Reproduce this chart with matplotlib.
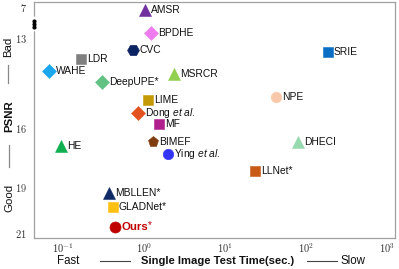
import numpy as np
import matplotlib
matplotlib.use('Agg')
import matplotlib.pyplot as plt
from matplotlib.lines import Line2D
from matplotlib.ticker import NullLocator
import matplotlib.transforms as mtransforms

plt.rcParams['font.family'] = 'Liberation Sans'
plt.rcParams['mathtext.fontset'] = 'cm'
plt.rcParams['mathtext.rm'] = 'Liberation Sans'
plt.rcParams['mathtext.it'] = 'Liberation Sans:italic'

# ---------------- data ----------------
methods = ['AMSR', 'BPDHE', 'CVC', 'LDR', 'WAHE', 'MSRCR', 'DeepUPE*', 'LIME',
           'Dong et al.', 'MF', 'SRIE', 'NPE', 'HE', 'BIMEF', 'Ying et al.',
           'MBLLEN*', 'GLADNet*', 'Ours*', 'DHECI', 'LLNet*']
times = [1.03, 1.22, 0.73, 0.166, 0.067, 2.35, 0.30, 1.12,
         0.84, 1.53, 187.0, 42.6, 0.095, 1.29, 1.98,
         0.37, 0.41, 0.44, 79.7, 23.4]
psnr = [7.58, 12.03, 13.40, 13.70, 14.10, 14.20, 14.47, 15.07,
        15.50, 15.87, 13.47, 14.97, 16.92, 16.71, 17.32,
        19.26, 19.87, 20.74, 16.71, 18.19]
markers = ['^', 'D', 'H', 's', 'D', '^', 'D', 's',
           'D', 's', 's', 'o', '^', 'p', 'o',
           '^', 's', 'o', '^', 's']
colors = ['#7030a0', '#ee7cee', '#0b2263', '#7f7f7f', '#1aa7ee', '#92d050', '#62c284', '#c49a06',
          '#e2531f', '#b0208c', '#0a6fc4', '#f8c8aa', '#10b050', '#7f3c10', '#3434f5',
          '#102a66', '#fec010', '#c00000', '#98dab0', '#c85a16']

yticks = [7, 13, 16, 19, 21]
ytick_labels = ['$7$', '$13$', '$16$', '$19$', '$21$']
xticks = [0.1, 1, 10, 100, 1000]
xtick_labels = ['$10^{-1}$', '$10^{0}$', '$10^{1}$', '$10^{2}$', '$10^{3}$']

# piecewise-linear PSNR axis (as drawn in the reference)
psnr_knots = [4, 7, 13, 16, 19, 21, 24]
pos_knots = [-8.5, 7, 38, 128, 187, 233, 302]

def fwd(v):
    return np.interp(v, psnr_knots, pos_knots)

def inv(p):
    return np.interp(p, pos_knots, psnr_knots)

msizes = {'^': 8.2, 'D': 7.0, 'H': 8.6, 's': 7.4, 'o': 7.6, 'p': 8.0}
label_off = {'^': 4.4, 'D': 5.0, 'H': 4.4, 's': 4.2, 'o': 4.4, 'p': 4.2}

# ---------------- figure ----------------
fig = plt.figure(figsize=(3.99, 2.69), dpi=100)
ax = fig.add_axes([0.0852, 0.115, 0.905, 0.879])
ax.set_xscale('log')
ax.set_yscale('function', functions=(fwd, inv))

for m, t, p, mk, c in zip(methods, times, psnr, markers, colors):
    ms = msizes[mk]
    off = label_off[mk]
    if m == 'Ours*':
        ms = 8.0
    ax.plot([t], [p], marker=mk, color=c, markersize=ms, markeredgecolor=c,
            markeredgewidth=0.4, linestyle='none', zorder=3)
    if m == 'Ours*':
        ax.annotate('Ours', (t, p), xytext=(4.8, 0), textcoords='offset points',
                    ha='left', va='center', fontsize=8.2, fontweight='bold', color='#c00000')
        ax.annotate('*', (t, p), xytext=(23.2, 1.5), textcoords='offset points',
                    ha='left', va='center', fontsize=7.0, color='#c00000')
    elif m.endswith('et al.'):
        base = m.split(' ')[0]
        ax.annotate(base + r' $\mathit{et\ al.}$', (t, p), xytext=(off, 0),
                    textcoords='offset points', ha='left', va='center',
                    fontsize=7.4, color='#111111', math_fontfamily='custom')
    else:
        ax.annotate(m, (t, p), xytext=(off, 0), textcoords='offset points',
                    ha='left', va='center', fontsize=7.4, color='#111111')

ax.set_xlim(10 ** -1.36, 10 ** 3.10)
ax.set_ylim(21.22, 5.94)
ax.set_xticks(xticks)
ax.set_xticklabels(xtick_labels)
ax.xaxis.set_minor_locator(NullLocator())
ax.set_yticks(yticks)
ax.set_yticklabels(ytick_labels)
ax.yaxis.set_minor_locator(NullLocator())
ax.tick_params(axis='both', length=0, labelsize=7.5, colors='#333333')
ax.tick_params(axis='x', pad=2.5)
ax.tick_params(axis='y', pad=5)
for s in ax.spines.values():
    s.set_color('#a0a0a0')
    s.set_linewidth(0.9)

# axis break mark on the left spine
btr = mtransforms.blended_transform_factory(ax.transAxes, ax.transData)
ax.plot([0, 0], [9.2, 11.3], color='white', lw=2.5, transform=btr, clip_on=False, zorder=4)
ax.plot([0, 0, 0], [9.65, 10.2, 10.8], 'o', color='black', ms=2.0, transform=btr,
        clip_on=False, zorder=5)

# axis annotations
fig.text(0.170, 0.0297, 'Fast', ha='center', va='center', fontsize=8.3, color='#111111')
fig.text(0.545, 0.0297, 'Single Image Test Time(sec.)', ha='center', va='center',
         fontsize=8.1, fontweight='bold', color='#111111')
fig.text(0.884, 0.0297, 'Slow', ha='center', va='center', fontsize=8.3, color='#111111')
fig.add_artist(Line2D([0.2506, 0.3258], [0.0297, 0.0297], color='#444444', lw=0.8))
fig.add_artist(Line2D([0.769, 0.845], [0.0297, 0.0297], color='#444444', lw=0.8))

fig.text(0.020, 0.825, 'Bad', ha='center', va='center', rotation=90, fontsize=8.2, color='#111111')
fig.text(0.024, 0.569, 'PSNR', ha='center', va='center', rotation=90, fontsize=8.2,
         fontweight='bold', color='#111111')
fig.text(0.024, 0.264, 'Good', ha='center', va='center', rotation=90, fontsize=8.2, color='#111111')
fig.add_artist(Line2D([0.021, 0.021], [0.758, 0.691], color='#888888', lw=0.9))
fig.add_artist(Line2D([0.022, 0.022], [0.461, 0.379], color='#888888', lw=0.9))

fig.savefig('out.png', dpi=100)
